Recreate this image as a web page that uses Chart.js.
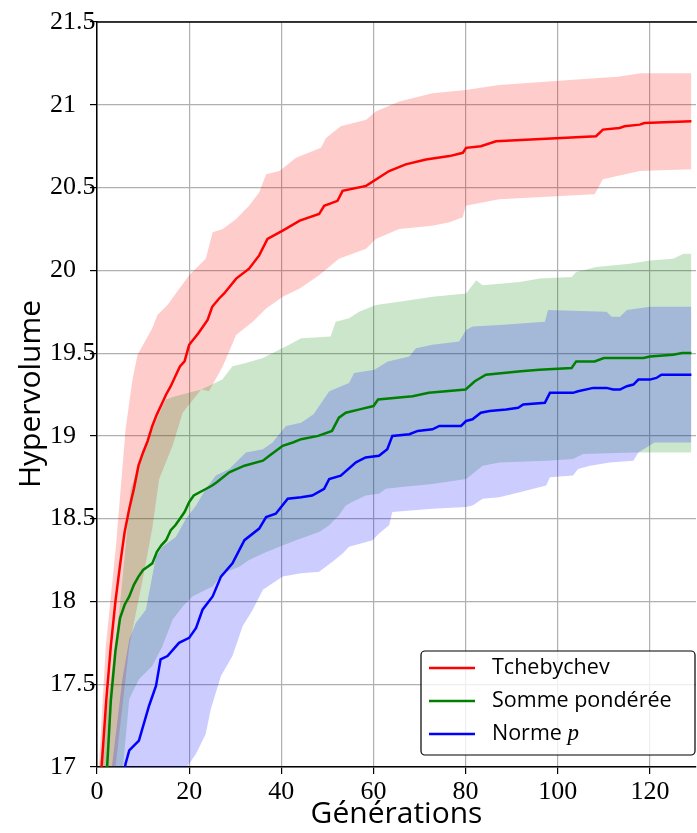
<!DOCTYPE html>
<html>
<head>
<meta charset="utf-8">
<script src="https://cdn.jsdelivr.net/npm/chart.js@4.4.1/dist/chart.umd.min.js"></script>
<style>
  html, body { margin: 0; padding: 0; background: #fff; }
  #wrap { width: 697px; height: 833px; position: relative; }
</style>
</head>
<body>
<div id="wrap"><canvas id="hv"></canvas></div>
<script>
// Tchebychev
const tcheMeanX = [0, 1, 2, 3, 4, 5, 6, 7, 8, 9, 10, 11, 12, 13, 14, 15, 16, 17, 18, 19, 20, 22, 24, 25, 26.5, 27.6, 30.2, 33, 35.2, 37, 40.3, 44, 48.2, 49.3, 52.2, 53.3, 58.4, 63.4, 67, 71.4, 76.5, 79.4, 80.1, 83.3, 86.6, 108.3, 109.8, 113.4, 114.5, 117.8, 118.8, 129];
const tcheMeanY = [16.5, 17.0, 17.4, 17.73, 18.0, 18.22, 18.42, 18.56, 18.68, 18.82, 18.9, 18.97, 19.06, 19.13, 19.19, 19.25, 19.3, 19.36, 19.42, 19.45, 19.55, 19.62, 19.7, 19.78, 19.83, 19.86, 19.95, 20.01, 20.09, 20.19, 20.24, 20.3, 20.34, 20.39, 20.42, 20.48, 20.51, 20.6, 20.64, 20.67, 20.69, 20.71, 20.74, 20.75, 20.78, 20.81, 20.85, 20.86, 20.87, 20.88, 20.89, 20.9];
const tcheLowX = [0, 4.1, 7, 9.9, 12, 13.5, 16.4, 18.6, 22.6, 24.3, 27.3, 30.2, 33.8, 36.7, 40.3, 44, 48.2, 52.5, 58.4, 60.5, 65.6, 72.8, 76.5, 79.4, 80, 87.3, 108, 109.8, 117.8, 129];
const tcheLowY = [16.0, 17.02, 17.73, 18.13, 18.44, 18.74, 18.94, 19.14, 19.28, 19.27, 19.42, 19.61, 19.69, 19.77, 19.84, 19.89, 19.97, 20.07, 20.13, 20.19, 20.25, 20.27, 20.29, 20.32, 20.39, 20.43, 20.46, 20.55, 20.6, 20.61];
const tcheHighX = [0, 1.9, 4.1, 6.2, 7.7, 8.8, 10.6, 12, 13.1, 15.3, 17.1, 20, 23.6, 25.1, 27.3, 30.2, 33, 35.2, 36.7, 39.6, 43.2, 48.6, 49.7, 52.9, 58.4, 60.5, 65.6, 72.8, 80, 87.3, 108, 113, 118, 129];
const tcheHighY = [16.8, 17.73, 18.33, 19.04, 19.34, 19.49, 19.58, 19.65, 19.73, 19.79, 19.86, 19.97, 20.07, 20.23, 20.25, 20.31, 20.39, 20.47, 20.58, 20.6, 20.68, 20.74, 20.8, 20.87, 20.91, 20.96, 21.02, 21.07, 21.09, 21.12, 21.16, 21.17, 21.19, 21.19];

// Somme pondérée
const sommeMeanX = [0, 2, 3, 4, 5, 6, 7, 8, 9, 10, 11, 12, 13, 14, 15, 16, 17, 18, 19, 20, 21, 23, 25, 26, 28.7, 32, 36, 37.4, 40.3, 42.5, 44.3, 48, 51, 52.5, 54, 57, 60, 61, 68.5, 72, 80, 82, 84.4, 92, 96, 103, 104, 108, 110, 118.6, 120, 125, 127, 129];
const sommeMeanY = [16.0, 16.9, 17.4, 17.7, 17.9, 17.98, 18.03, 18.1, 18.15, 18.19, 18.21, 18.23, 18.3, 18.34, 18.37, 18.43, 18.46, 18.5, 18.54, 18.6, 18.64, 18.67, 18.7, 18.72, 18.78, 18.82, 18.85, 18.88, 18.94, 18.96, 18.98, 19.0, 19.03, 19.11, 19.14, 19.16, 19.18, 19.22, 19.24, 19.26, 19.28, 19.33, 19.37, 19.39, 19.4, 19.41, 19.45, 19.45, 19.47, 19.47, 19.48, 19.49, 19.5, 19.5];
const sommeLowX = [0, 5, 7, 9.1, 12, 14.2, 16.4, 18.6, 20.7, 23.6, 25.1, 27.3, 30.9, 33, 36, 39.6, 43.2, 48.2, 50.4, 52.5, 54, 55.4, 58.3, 61.2, 62.7, 65.6, 72.8, 80.1, 83.7, 87.3, 97.5, 103.3, 105.5, 116.4, 129];
const sommeLowY = [15.8, 16.8, 17.41, 17.53, 17.61, 17.73, 17.89, 17.97, 18.03, 18.07, 18.09, 18.17, 18.21, 18.25, 18.29, 18.33, 18.37, 18.42, 18.46, 18.52, 18.58, 18.6, 18.64, 18.65, 18.68, 18.69, 18.71, 18.74, 18.82, 18.84, 18.85, 18.86, 18.89, 18.9, 18.9];
const sommeHighX = [0, 0.6, 3, 4.8, 6.2, 7.3, 9.9, 12, 14.9, 17, 22.6, 27.2, 29.4, 32.3, 36, 38.8, 41.7, 44.3, 50.7, 51.8, 54.7, 56.9, 60.5, 65.6, 72.8, 80.1, 82.3, 83.7, 91.7, 96.1, 103, 104, 108.4, 115.6, 120, 125, 127.3, 129];
const sommeHighY = [16.6, 17.02, 17.53, 17.93, 18.33, 18.68, 18.88, 19.04, 19.22, 19.24, 19.28, 19.34, 19.42, 19.44, 19.47, 19.51, 19.55, 19.59, 19.6, 19.69, 19.71, 19.75, 19.79, 19.81, 19.84, 19.86, 19.94, 19.91, 19.93, 19.95, 19.96, 19.99, 20.02, 20.04, 20.06, 20.07, 20.1, 20.1];

// Norme p
const normeMeanX = [0, 5, 6.2, 7, 9.1, 11.3, 12.8, 13.8, 15.3, 17.8, 20, 21.5, 22.9, 25.1, 26.9, 29.4, 32, 35.2, 36.7, 38.8, 41.4, 44.3, 46.7, 49.3, 50.4, 52.9, 56.2, 58.3, 61.2, 63, 64.1, 67.8, 69.6, 72.8, 74.3, 79, 80.1, 81.5, 83.3, 85.2, 88.8, 91.4, 92.5, 97.2, 98.3, 103.3, 104.4, 107.7, 110.6, 112, 113.5, 115, 116.4, 117.5, 120, 121.4, 122.5, 129];
const normeMeanY = [16.2, 16.8, 17.02, 17.1, 17.16, 17.37, 17.49, 17.65, 17.67, 17.75, 17.78, 17.84, 17.95, 18.03, 18.15, 18.23, 18.37, 18.44, 18.51, 18.53, 18.62, 18.63, 18.64, 18.68, 18.74, 18.76, 18.84, 18.87, 18.88, 18.92, 19.0, 19.01, 19.03, 19.04, 19.06, 19.06, 19.09, 19.1, 19.14, 19.15, 19.16, 19.17, 19.19, 19.2, 19.26, 19.26, 19.27, 19.29, 19.29, 19.28, 19.28, 19.3, 19.31, 19.34, 19.34, 19.35, 19.37, 19.37];
const normeLowX = [0, 10, 20, 21.5, 23.6, 24.7, 26.9, 29.4, 31.6, 33.8, 36, 40.3, 44.3, 48.2, 51.1, 53.3, 54.7, 59.8, 61.2, 63.4, 64.1, 72.8, 80.1, 81.5, 83.7, 87.3, 91.7, 97.5, 98.3, 103.3, 104.4, 107, 111.3, 116.4, 117.5, 121, 129];
const normeLowY = [15.8, 16.5, 17.02, 17.08, 17.2, 17.35, 17.55, 17.67, 17.85, 17.95, 18.07, 18.15, 18.17, 18.18, 18.24, 18.29, 18.33, 18.37, 18.41, 18.46, 18.54, 18.56, 18.57, 18.58, 18.62, 18.63, 18.66, 18.7, 18.75, 18.76, 18.8, 18.82, 18.84, 18.85, 18.9, 18.96, 18.96];
const normeHighX = [0, 3.3, 5.5, 7, 8.4, 10.6, 12.8, 14.2, 17.1, 19.3, 21.5, 23.6, 25.8, 28.7, 32.3, 36, 38.1, 41, 44.3, 47, 50.4, 54.7, 55.8, 60.2, 63.1, 67.8, 69.2, 72.8, 78.6, 80.1, 81.5, 87.3, 97.2, 97.9, 110.6, 111.7, 113.5, 115, 120, 129];
const normeHighY = [16.0, 17.02, 17.53, 17.77, 17.87, 17.95, 18.27, 18.33, 18.39, 18.5, 18.58, 18.68, 18.76, 18.8, 18.9, 18.92, 18.96, 19.06, 19.08, 19.13, 19.27, 19.32, 19.38, 19.4, 19.45, 19.48, 19.53, 19.55, 19.57, 19.64, 19.66, 19.67, 19.69, 19.76, 19.75, 19.72, 19.72, 19.76, 19.78, 19.78];

const seriesNames = ['Tchebychev', 'Somme pondérée', 'Norme '];
const seriesColors = ['#ff0000', '#008000', '#0000ff'];
const bandColors = ['rgba(255,0,0,0.2)', 'rgba(0,128,0,0.2)', 'rgba(0,0,255,0.2)'];

const xTicksMin = 0, xTicksMax = 130, xStep = 20;
const yTicksMin = 17, yTicksMax = 21.5, yStep = 0.5;

function pts(xs, ys) {
    return xs.map((x, i) => ({ x: x, y: ys[i] }));
}

function meanLine(label, xs, ys, color) {
    return {
        label: label,
        data: pts(xs, ys),
        borderColor: color,
        borderWidth: 2.5,
        pointRadius: 0,
        fill: false,
        tension: 0
    };
}

function bandEdge(xs, ys, fillColor, isUpper) {
    return {
        label: '',
        data: pts(xs, ys),
        borderWidth: 0,
        borderColor: 'rgba(0,0,0,0)',
        backgroundColor: fillColor,
        pointRadius: 0,
        tension: 0,
        fill: isUpper ? '-1' : false
    };
}

const yTitlePlugin = {
    id: 'yTitle',
    afterDraw(chart) {
        const ctx = chart.ctx;
        ctx.save();
        ctx.translate(31, 394);
        ctx.rotate(-Math.PI / 2);
        ctx.font = '30px "Open Sans"';
        ctx.fillStyle = '#000';
        ctx.textAlign = 'center';
        ctx.textBaseline = 'middle';
        ctx.fillText('Hypervolume', 0, 0);
        ctx.restore();
    }
};

const framePlugin = {
    id: 'frame',
    afterDatasetsDraw(chart) {
        const { ctx, chartArea } = chart;
        ctx.save();
        ctx.strokeStyle = '#000';
        ctx.lineWidth = 1.5;
        ctx.beginPath();
        ctx.moveTo(chartArea.left, chartArea.top);
        ctx.lineTo(chartArea.right + 1, chartArea.top);
        ctx.stroke();
        ctx.restore();
    }
};

const legendPlugin = {
    id: 'boxLegend',
    afterDraw(chart) {
        const ctx = chart.ctx;
        const bx = 421, by = 651, bw = 274, bh = 104, r = 4;
        ctx.save();
        ctx.fillStyle = 'rgba(255,255,255,0.8)';
        ctx.strokeStyle = '#000';
        ctx.lineWidth = 1.2;
        ctx.beginPath();
        ctx.roundRect(bx, by, bw, bh, r);
        ctx.fill();
        ctx.stroke();
        ctx.textBaseline = 'middle';
        ctx.textAlign = 'left';
        for (let i = 0; i < 3; i++) {
            const y = by + 17 + i * 33;
            ctx.strokeStyle = seriesColors[i];
            ctx.lineWidth = 2.5;
            ctx.beginPath();
            ctx.moveTo(bx + 8, y);
            ctx.lineTo(bx + 54, y);
            ctx.stroke();
            ctx.fillStyle = '#000';
            ctx.font = '21.5px "Open Sans"';
            ctx.fillText(seriesNames[i], bx + 71, y);
            if (i === 2) {
                const w = ctx.measureText(seriesNames[i]).width;
                ctx.font = 'italic 23px "Liberation Serif"';
                ctx.fillText('p', bx + 71 + w, y);
            }
        }
        ctx.restore();
    }
};

const chart = new Chart(document.getElementById('hv'), {
    type: 'line',
    data: {
        datasets: [
            meanLine('Tchebychev', tcheMeanX, tcheMeanY, seriesColors[0]),
            meanLine('Somme pondérée', sommeMeanX, sommeMeanY, seriesColors[1]),
            meanLine('Norme p', normeMeanX, normeMeanY, seriesColors[2]),
            bandEdge(normeLowX, normeLowY, bandColors[2], false),
            bandEdge(normeHighX, normeHighY, bandColors[2], true),
            bandEdge(sommeLowX, sommeLowY, bandColors[1], false),
            bandEdge(sommeHighX, sommeHighY, bandColors[1], true),
            bandEdge(tcheLowX, tcheLowY, bandColors[0], false),
            bandEdge(tcheHighX, tcheHighY, bandColors[0], true)
        ]
    },
    options: {
        responsive: true,
        maintainAspectRatio: false,
        animation: false,
        events: [],
        layout: { padding: { left: 50, top: 22, right: 1, bottom: 0 } },
        plugins: {
            legend: { display: false },
            tooltip: { enabled: false }
        },
        scales: {
            x: {
                type: 'linear',
                min: xTicksMin,
                max: xTicksMax,
                afterFit(scale) { scale.height = 66; },
                grid: { color: '#b0b0b0', lineWidth: 1.2, tickColor: '#000', tickLength: 7, tickWidth: 1.2 },
                border: { color: '#000', width: 1.5 },
                ticks: {
                    stepSize: xStep,
                    includeBounds: false,
                    maxRotation: 0,
                    padding: 3,
                    color: '#000',
                    font: { family: '"Liberation Serif"', size: 26 }
                },
                title: {
                    display: true,
                    text: 'Générations',
                    color: '#000',
                    font: { family: '"Open Sans"', size: 30 },
                    padding: { top: 0, bottom: 1 }
                }
            },
            y: {
                min: yTicksMin,
                max: yTicksMax,
                afterFit(scale) { scale.width = 47; },
                grid: { color: '#b0b0b0', lineWidth: 1.2, tickColor: '#000', tickLength: 7, tickWidth: 1.2 },
                border: { color: '#000', width: 1.5 },
                ticks: {
                    stepSize: yStep,
                    crossAlign: 'far',
                    color: '#000',
                    font: { family: '"Liberation Serif"', size: 26 },
                    callback: (v) => String(Math.round(v * 10) / 10)
                }
            }
        }
    },
    plugins: [yTitlePlugin, framePlugin, legendPlugin]
});
</script>
</body>
</html>
